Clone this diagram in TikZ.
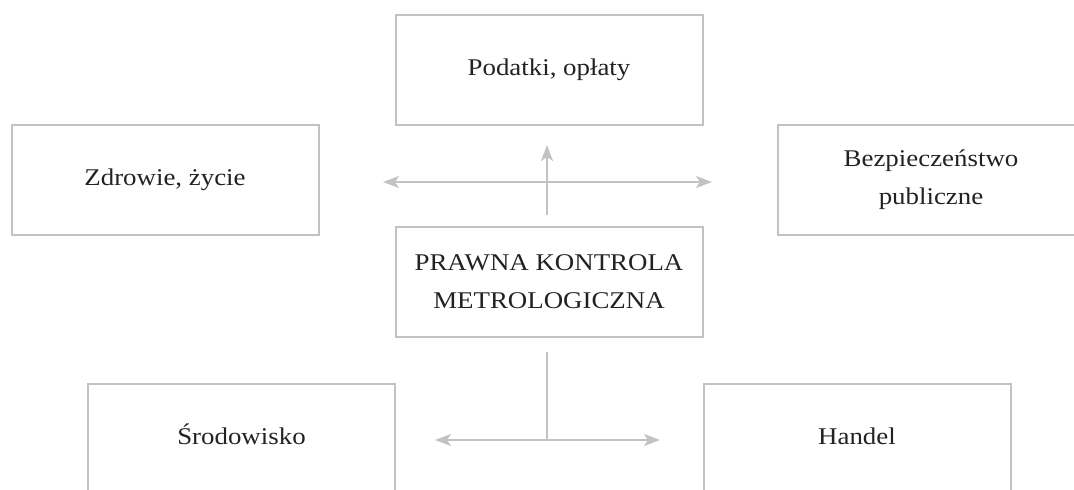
\documentclass[tikz,border=0pt]{standalone}
\usepackage{fontspec}
\setmainfont[FakeStretch=1.12]{Liberation Serif}
\usetikzlibrary{arrows.meta}
\definecolor{linegray}{HTML}{C2C2C6}
\definecolor{textgray}{HTML}{222222}
\tikzset{
  box/.style={draw=linegray, line width=2pt, minimum width=307pt, minimum height=110pt,
    inner sep=0pt, align=center, text=textgray, font=\fontsize{24}{38}\selectfont},
  onebox/.style={box, text height=17pt, text depth=5pt},
  conn/.style={draw=linegray, line width=2pt},
  tip/.style={-{Stealth[length=16pt,width=12pt,inset=4pt]}},
  tips/.style={{Stealth[length=16pt,width=12pt,inset=4pt]}-{Stealth[length=16pt,width=12pt,inset=4pt]}}
}
\begin{document}
\begin{tikzpicture}[x=1pt,y=-1pt]
\useasboundingbox (0,0) rectangle (1074,490);
\clip (0,0) rectangle (1074,490);
\node[onebox] (pod) at (549,69.5) {Podatki, opłaty};
\node[onebox] (zdr) at (165,179.5) {Zdrowie, życie};
\node[box] (bez) at (931,179.5) {Bezpieczeństwo\\publiczne};
\node[box] (pkm) at (549,281.5) {PRAWNA KONTROLA\\METROLOGICZNA};
\node[onebox] (sro) at (241.5,438.5) {Środowisko};
\node[onebox] (han) at (857,438.5) {Handel};
\coordinate (uL) at (383,182);
\coordinate (uR) at (712,182);
\coordinate (uB) at (547,215);
\coordinate (uT) at (547,145);
\coordinate (lT) at (547,352);
\coordinate (lM) at (547,440);
\coordinate (lL) at (435,440);
\coordinate (lR) at (660,440);
\draw[conn, tips] (uL) -- (uR);
\draw[conn, tip] (uB) -- (uT);
\draw[conn] (lT) -- (lM);
\draw[conn, tips] (lL) -- (lR);
\end{tikzpicture}
\end{document}
